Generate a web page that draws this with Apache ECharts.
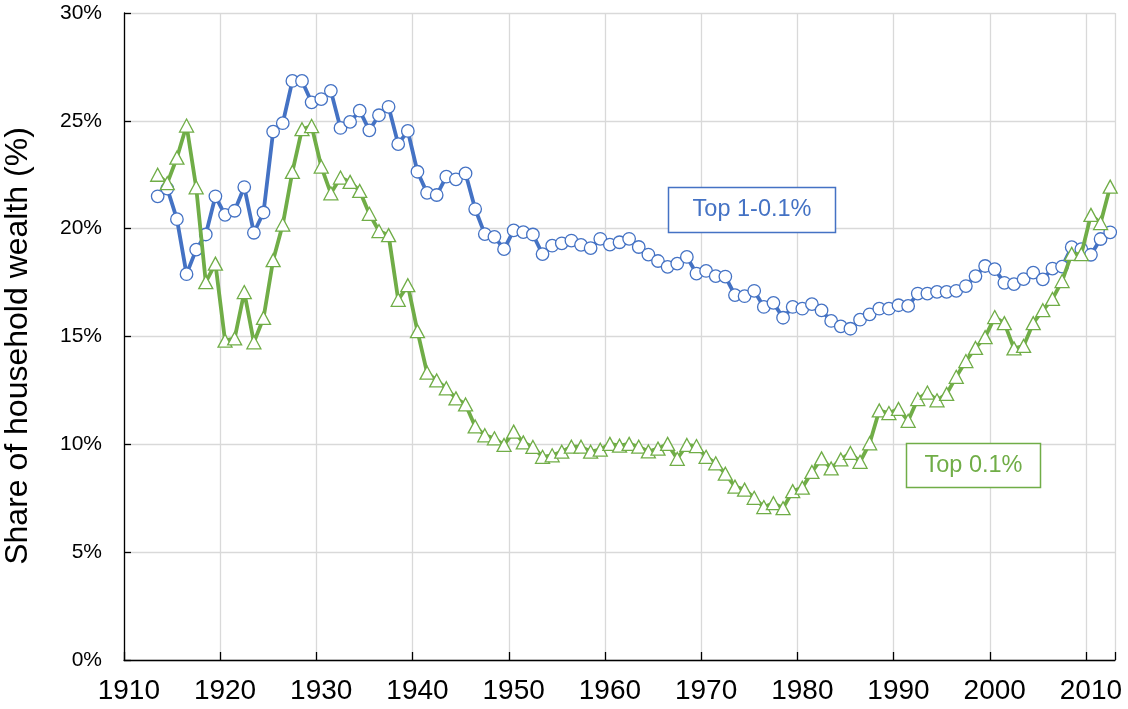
<!DOCTYPE html>
<html style="height: 100%">
<head>
  <meta charset="utf-8">
  <script type="text/javascript" src="https://cdn.jsdelivr.net/npm/echarts@6/dist/echarts.min.js"></script>
</head>
<body style="width: 100%; height: 100%; margin: 0; background: #fff">
<div id="main" style="width: 1128px; height: 709px;"></div>
<script type="text/javascript">
// axis runs 1910..2012, data starts 1913
var axisStart = 1910;
var axisEnd = 2012;
var dataStart = 1913;

// share of household wealth, top 1-0.1% (blue circles)
var top1to01 = [
  21.5, 21.86, 20.44, 17.89, 19.03, 19.73, 21.5, 20.64, 20.83, 21.93,
  19.81, 20.75, 24.5, 24.89, 26.85, 26.85, 25.86, 26.01, 26.39, 24.67,
  24.95, 25.47, 24.56, 25.26, 25.65, 23.92, 24.53, 22.64, 21.66, 21.56,
  22.41, 22.29, 22.56, 20.91, 19.75, 19.62, 19.05, 19.92, 19.84, 19.73,
  18.82, 19.21, 19.32, 19.45, 19.25, 19.1, 19.53, 19.26, 19.37, 19.53,
  19.15, 18.8, 18.5, 18.23, 18.38, 18.69, 17.92, 18.04, 17.8, 17.78,
  16.92, 16.87, 17.12, 16.37, 16.56, 15.87, 16.37, 16.29, 16.5, 16.21,
  15.72, 15.47, 15.36, 15.78, 16.03, 16.29, 16.29, 16.45, 16.42, 16.99,
  16.99, 17.07, 17.07, 17.12, 17.34, 17.8, 18.27, 18.12, 17.49, 17.43,
  17.66, 17.96, 17.65, 18.15, 18.24, 19.14, 19.05, 18.79, 19.52, 19.83
];

// share of household wealth, top 0.1% (green triangles)
var top01 = [
  22.5, 22.11, 23.29, 24.78, 21.92, 17.52, 18.38, 14.81, 14.91, 17.06,
  14.73, 15.86, 18.54, 20.19, 22.63, 24.61, 24.76, 22.88, 21.64, 22.37,
  22.17, 21.75, 20.69, 19.89, 19.7, 16.7, 17.38, 15.25, 13.32, 12.96,
  12.6, 12.13, 11.85, 10.83, 10.42, 10.28, 9.97, 10.59, 10.09, 9.88,
  9.42, 9.49, 9.66, 9.89, 9.89, 9.66, 9.75, 10.02, 9.94, 10.02,
  9.89, 9.67, 9.8, 10.02, 9.33, 9.97, 9.92, 9.42, 9.12, 8.64,
  8.04, 7.9, 7.52, 7.09, 7.27, 7.04, 7.83, 7.99, 8.72, 9.35,
  8.88, 9.3, 9.6, 9.19, 10.05, 11.57, 11.45, 11.64, 11.09, 12.1,
  12.4, 12.04, 12.34, 13.13, 13.86, 14.47, 14.97, 15.9, 15.62, 14.45,
  14.56, 15.62, 16.22, 16.74, 17.57, 18.83, 18.82, 20.64, 20.26, 21.95
];

var yTicks = [0, 5, 10, 15, 20, 25, 30];

var years = [];
for (var y = axisStart; y <= axisEnd; y++) years.push(String(y));
var pad = [];
for (var k = axisStart; k < dataStart; k++) pad.push(null);

var FONT = '"Liberation Sans", Arial, sans-serif';
var BLUE = '#4472C4';
var GREEN = '#70AD47';
var everyTen = function (idx) { return idx % 10 === 0; };

var myChart = echarts.init(document.getElementById('main'));
var option = {
  animation: false,
  backgroundColor: '#fff',
  grid: { left: 124, right: 13, top: 13, bottom: 49, outerBoundsMode: 'none' },
  xAxis: {
    type: 'category',
    data: years,
    boundaryGap: true,
    axisLine: { lineStyle: { color: '#000', width: 1.3 } },
    axisTick: { show: true, inside: true, length: 8, interval: everyTen, lineStyle: { color: '#000', width: 1.3 } },
    axisLabel: { interval: everyTen, fontSize: 28, fontFamily: FONT, color: '#000', margin: 17 },
    splitLine: { show: true, interval: everyTen, lineStyle: { color: '#D9D9D9', width: 1.3 } }
  },
  yAxis: {
    type: 'value',
    min: yTicks[0],
    max: yTicks[yTicks.length - 1],
    interval: yTicks[1] - yTicks[0],
    axisLine: { show: true, lineStyle: { color: '#000', width: 1.3 } },
    axisTick: { show: true, inside: true, length: 7, lineStyle: { color: '#000', width: 1.3 } },
    axisLabel: { formatter: '{value}%', fontSize: 21, fontFamily: FONT, color: '#000', margin: 22 },
    splitLine: { show: true, lineStyle: { color: '#D9D9D9', width: 1.3 } }
  },
  series: [
    {
      name: 'Top 1-0.1%',
      type: 'line',
      data: pad.concat(top1to01),
      symbol: 'circle',
      symbolSize: 12.5,
      showAllSymbol: true,
      z: 2,
      lineStyle: { color: BLUE, width: 3.8 },
      itemStyle: { color: '#fff', borderColor: BLUE, borderWidth: 1.3 }
    },
    {
      name: 'Top 0.1%',
      type: 'line',
      data: pad.concat(top01),
      symbol: 'triangle',
      symbolSize: [14, 13],
      showAllSymbol: true,
      z: 3,
      lineStyle: { color: GREEN, width: 3.8 },
      itemStyle: { color: '#fff', borderColor: GREEN, borderWidth: 1.3 }
    }
  ],
  graphic: [
    {
      type: 'text', x: 18, y: 346, rotation: Math.PI / 2, z: 10,
      style: { text: 'Share of household wealth (%)', font: '32px ' + FONT, fill: '#000', align: 'center', verticalAlign: 'middle' }
    },
    {
      type: 'group', x: 668, y: 187, z: 10,
      children: [
        { type: 'rect', z: 10, shape: { x: 0.5, y: 0.5, width: 167, height: 45 },
          style: { fill: '#fff', stroke: BLUE, lineWidth: 1.5 } },
        { type: 'text', z: 11, x: 84, y: 23,
          style: { text: 'Top 1-0.1%', font: '23.5px ' + FONT, fill: BLUE, align: 'center', verticalAlign: 'middle' } }
      ]
    },
    {
      type: 'group', x: 906, y: 443, z: 10,
      children: [
        { type: 'rect', z: 10, shape: { x: 0.5, y: 0.5, width: 134, height: 44 },
          style: { fill: '#fff', stroke: GREEN, lineWidth: 1.5 } },
        { type: 'text', z: 11, x: 67.5, y: 22.5,
          style: { text: 'Top 0.1%', font: '23.5px ' + FONT, fill: GREEN, align: 'center', verticalAlign: 'middle' } }
      ]
    }
  ]
};
myChart.setOption(option);
</script>
</body>
</html>
